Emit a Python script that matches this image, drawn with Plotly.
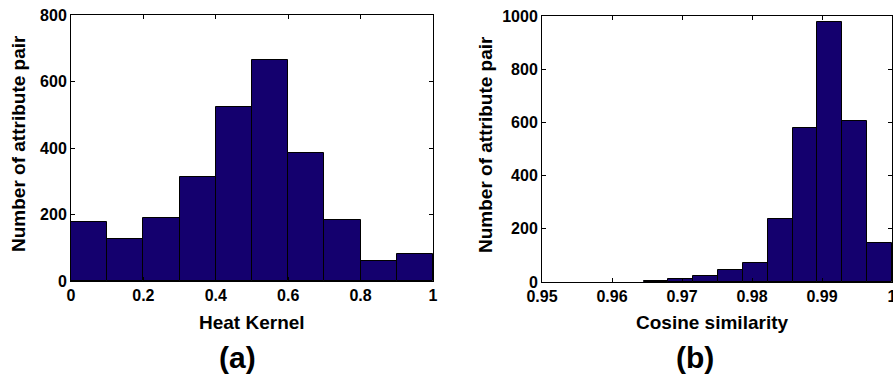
import plotly.graph_objects as go

# Data
heat_bin_left = [0.0, 0.1, 0.2, 0.3, 0.4, 0.5, 0.6, 0.7, 0.8, 0.9]
heat_bin_width = 0.1
heat_counts = [178, 125, 188, 314, 523, 664, 384, 182, 60, 80]

cos_bin_left = [0.9645, 0.96805, 0.9716, 0.97515, 0.9787, 0.98225, 0.9858, 0.98935, 0.9929, 0.99645]
cos_bin_width = 0.00355
cos_counts = [4, 12, 21, 44, 73, 238, 578, 976, 605, 145]

heat_ticks = [0, 0.2, 0.4, 0.6, 0.8, 1]
heat_ticktext = ["0", "0.2", "0.4", "0.6", "0.8", "1"]
heat_yticks = [0, 200, 400, 600, 800]
cos_ticks = [0.95, 0.96, 0.97, 0.98, 0.99, 1.0]
cos_ticktext = ["0.95", "0.96", "0.97", "0.98", "0.99", "1"]
cos_yticks = [0, 200, 400, 600, 800, 1000]

W, H = 893, 376
BAR = "#14006e"
FONT = "Liberation Sans, Arial, sans-serif"

fig = go.Figure()
fig.add_trace(go.Bar(
    x=[l + heat_bin_width / 2 for l in heat_bin_left], y=heat_counts,
    width=[heat_bin_width] * len(heat_counts),
    marker=dict(color=BAR, line=dict(color="black", width=1)),
    xaxis="x", yaxis="y", showlegend=False))
fig.add_trace(go.Bar(
    x=[l + cos_bin_width / 2 for l in cos_bin_left], y=cos_counts,
    width=[cos_bin_width] * len(cos_counts),
    marker=dict(color=BAR, line=dict(color="black", width=1)),
    xaxis="x2", yaxis="y2", showlegend=False))

def px_x(p):
    return p / W

def px_y(p):
    return 1 - p / H

def b(lst):
    return ["<b>%s</b>" % s for s in lst]

axis_common = dict(showline=True, linecolor="black", linewidth=1, mirror="ticks",
                   ticks="inside", ticklen=4, tickcolor="black", showgrid=False,
                   zeroline=False, automargin=False, ticklabeloverflow="allow",
                   tickfont=dict(family=FONT, size=16, color="black"))

fig.update_layout(
    width=W, height=H, margin=dict(l=0, r=0, t=0, b=0), autosize=False,
    paper_bgcolor="white", plot_bgcolor="white", bargap=0,
    font=dict(family=FONT, color="black"),
    xaxis=dict(domain=[px_x(71), px_x(433)], range=[0, 1], anchor="y",
               tickvals=heat_ticks, ticktext=b(heat_ticktext), **axis_common),
    yaxis=dict(domain=[px_y(281), px_y(15)], range=[0, 800], anchor="x",
               tickvals=heat_yticks, ticktext=b([str(v) for v in heat_yticks]), **axis_common),
    xaxis2=dict(domain=[px_x(542), px_x(892)], range=[0.95, 1.0], anchor="y2",
                tickvals=cos_ticks, ticktext=b(cos_ticktext), **axis_common),
    yaxis2=dict(domain=[px_y(282), px_y(16)], range=[0, 1000], anchor="x2",
                tickvals=cos_yticks, ticktext=b([str(v) for v in cos_yticks]), **axis_common),
)

def ann(text, x, y, size, angle=0):
    fig.add_annotation(text="<b>%s</b>" % text, x=px_x(x), y=px_y(y), xref="paper", yref="paper",
                       showarrow=False, textangle=angle, xanchor="center", yanchor="middle",
                       font=dict(family=FONT, size=size, color="black"))

ann("Number of attribute pair", 18, 144, 19, -90)
ann("Number of attribute pair", 485, 145, 19, -90)
ann("Heat Kernel", 252, 322, 19)
ann("Cosine similarity", 712, 322, 19)
ann("(a)", 237, 357, 30)
ann("(b)", 695, 357, 30)

fig.write_html("out.html", config={"displayModeBar": False},
               post_script="document.body.style.margin='0';document.body.style.overflow='hidden';")
